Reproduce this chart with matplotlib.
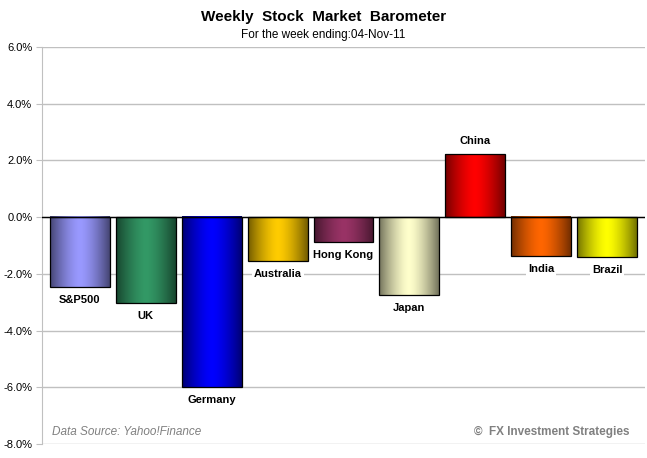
import numpy as np
import matplotlib.pyplot as plt
from matplotlib.colors import LinearSegmentedColormap, to_rgb

plt.rcParams['font.family'] = ['Liberation Sans', 'DejaVu Sans']

# data (weekly % change)
markets = ['S&P500', 'UK', 'Germany', 'Australia', 'Hong Kong', 'Japan', 'China', 'India', 'Brazil']
changes = [-2.47, -3.03, -6.0, -1.55, -0.88, -2.75, 2.22, -1.38, -1.41]
colors = ['#9999ff', '#339966', '#0000ff', '#ffcc00', '#993366', '#ffffcc', '#ff0000', '#ff6600', '#ffff00']
yticks = [6, 4, 2, 0, -2, -4, -6, -8]

fig = plt.figure(figsize=(6.47, 4.58), dpi=100)
ax = fig.add_axes([42 / 647, 14 / 458, 603 / 647, 397 / 458])

x = np.arange(len(markets))
width = 0.91
bars = ax.bar(x, changes, width=width, color='none', edgecolor='black', linewidth=0.9, zorder=3)

# horizontal shading: dark at the sides, light in the middle
grad = np.abs(np.linspace(-1, 1, 200))[None, :]
for bar, c in zip(bars, colors):
    rgb = np.array(to_rgb(c))
    cmap = LinearSegmentedColormap.from_list('g', [rgb, rgb * 0.45])
    x0 = bar.get_x()
    y0, h = bar.get_y(), bar.get_height()
    ax.imshow(grad ** 1.5, cmap=cmap, aspect='auto', zorder=2,
              extent=[x0, x0 + bar.get_width(), min(y0, y0 + h), max(y0, y0 + h)])

for xi, v, name in zip(x, changes, markets):
    off = -0.45 if v < 0 else 0.45
    ax.text(xi, v + off, name, ha='center', va='center', fontsize=8, fontweight='bold', zorder=4,
            bbox=dict(facecolor='white', edgecolor='none', pad=1.5))

ax.set_xlim(-0.576, len(markets) - 1 + 0.576)
ax.set_ylim(-8, 6)
ax.set_yticks(yticks)
ax.set_yticklabels([f'{t:.1f}%' for t in yticks], fontsize=8)
ax.set_xticks([])
ax.yaxis.grid(True, color='#c0c0c0', linewidth=1, zorder=0)
ax.axhline(0, color='black', linewidth=1, zorder=3)
for s in ['top', 'right', 'bottom']:
    ax.spines[s].set_visible(False)
ax.spines['left'].set_color('#c0c0c0')
ax.tick_params(axis='y', length=4, color='#c0c0c0', pad=3)

fig.text(0.5, 1 - 17 / 458, 'Weekly  Stock  Market  Barometer', ha='center', va='center',
         fontsize=11, fontweight='bold')
fig.text(0.5, 1 - 35 / 458, 'For the week ending:04-Nov-11', ha='center', va='center', fontsize=8.5)
fig.text(52 / 647, 1 - 432 / 458, 'Data Source: Yahoo!Finance', ha='left', va='center',
         fontsize=8.5, style='italic', color='#808080')
fig.text(630 / 647, 1 - 432 / 458, '\u00a9  FX Investment Strategies', ha='right', va='center',
         fontsize=8.5, fontweight='bold', color='#808080')

fig.savefig('out.png', dpi=100)
